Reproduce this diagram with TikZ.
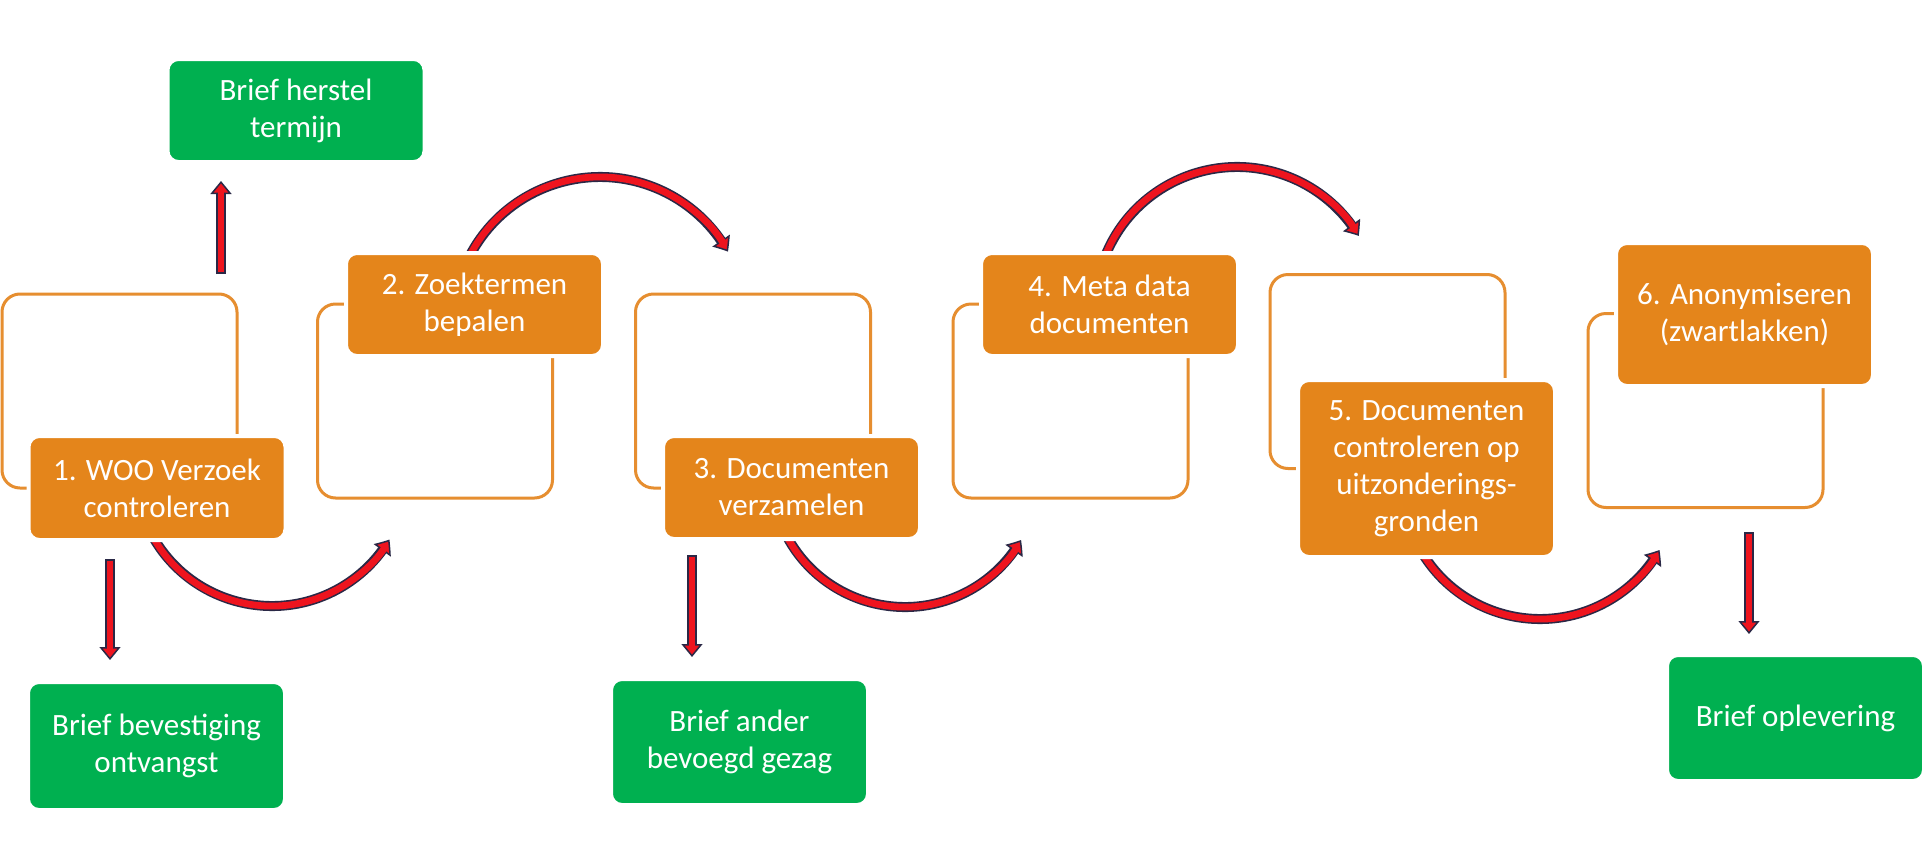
\documentclass[tikz,border=0pt]{standalone}
\usepackage{fontspec}
\setmainfont{Carlito}
\usetikzlibrary{arrows.meta,bending}
\definecolor{boxorange}{RGB}{228,133,27}
\definecolor{lineorange}{RGB}{230,142,48}
\definecolor{boxgreen}{RGB}{0,176,80}
\definecolor{arrred}{RGB}{238,20,30}
\definecolor{arrdark}{RGB}{42,40,70}
\begin{document}
\begin{tikzpicture}[x=1pt,y=-1pt,
  frame/.style={draw=lineorange, line width=3pt, rounded corners=18pt,
    minimum width=235pt, minimum height=194pt, inner sep=0pt, outer sep=0pt},
  stepbox/.style={fill=boxorange, draw=white, line width=4pt, rounded corners=11pt,
    minimum width=257pt, inner sep=0pt, outer sep=0pt, text=white, align=center,
    font=\fontsize{31}{37}\selectfont},
  letterbox/.style={stepbox, fill=boxgreen},
  blockarrow/.style={draw=arrdark, line width=10pt,
    -{Triangle[length=13pt,width=21pt,line width=1.5pt,fill=arrred,bend]},
    postaction={draw=arrred, line width=6.8pt, arrows=-, shorten >=9pt, shorten <=1.6pt}}]
\useasboundingbox (0,0) rectangle (1925,857);
\fill[white] (0,0) rectangle (1925,857);

% arc centres
\coordinate (c1) at (272,469);
\coordinate (c2) at (600,324);
\coordinate (c3) at (905,473);
\coordinate (c4) at (1237,309);
\coordinate (c5) at (1540,481);

% curved arrows (behind the boxes)
\draw[blockarrow] (c1) ++(152:137) arc[start angle=152, end angle=31, radius=137];
\draw[blockarrow] (c2) ++(-153:147) arc[start angle=-153, end angle=-29.5, radius=147];
\draw[blockarrow] (c3) ++(153:134) arc[start angle=153, end angle=30, radius=134];
\draw[blockarrow] (c4) ++(-159:142) arc[start angle=-159, end angle=-31, radius=142];
\draw[blockarrow] (c5) ++(150:138) arc[start angle=150, end angle=30, radius=138];

% outlined frames
\node[frame] (o1) at (119.5,391) {};
\node[frame] (o2) at (435,401) {};
\node[frame] (o3) at (753,391) {};
\node[frame] (o4) at (1070.5,401) {};
\node[frame] (o5) at (1387.5,371.5) {};
\node[frame] (o6) at (1705.5,410.5) {};

% step boxes
\node[stepbox, minimum height=104pt] (s1) at (157,488) {1. WOO Verzoek\\controleren};
\node[stepbox, minimum height=103pt] (s2) at (474.5,304.5) {2. Zoektermen\\bepalen};
\node[stepbox, minimum height=103pt] (s3) at (791.5,487.5) {3. Documenten\\verzamelen};
\node[stepbox, minimum height=103pt] (s4) at (1109.5,304.5) {4. Meta data\\documenten};
\node[stepbox, minimum height=177pt] (s5) at (1426.5,468.5) {5. Documenten\\controleren op\\uitzonderings-\\gronden};
\node[stepbox, minimum height=143pt] (s6) at (1744.5,314.5) {6. Anonymiseren\\(zwartlakken)};

% letter boxes
\node[letterbox, minimum height=103pt] (g1) at (296,110.5) {Brief herstel\\termijn};
\node[letterbox, minimum height=128pt] (g2) at (156.5,746) {Brief bevestiging\\ontvangst};
\node[letterbox, minimum height=126pt] (g3) at (739.5,742) {Brief ander\\bevoegd gezag};
\node[letterbox, minimum height=126pt] (g4) at (1795.5,718) {Brief oplevering};

% straight arrows
\coordinate (u1) at (221,274);
\coordinate (u2) at (221,181);
\coordinate (d1a) at (110,559);
\coordinate (d1b) at (110,660);
\coordinate (d3a) at (692,555);
\coordinate (d3b) at (692,657);
\coordinate (d6a) at (1749,532);
\coordinate (d6b) at (1749,634);
\draw[blockarrow] (u1) -- (u2);
\draw[blockarrow] (d1a) -- (d1b);
\draw[blockarrow] (d3a) -- (d3b);
\draw[blockarrow] (d6a) -- (d6b);
\end{tikzpicture}
\end{document}
